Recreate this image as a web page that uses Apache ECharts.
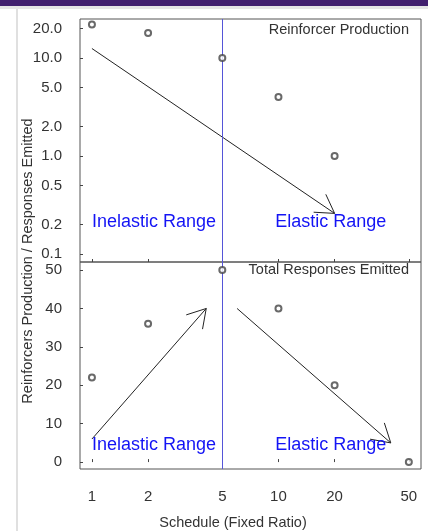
<!DOCTYPE html>
<html><head><meta charset="utf-8">
<script src="https://cdn.jsdelivr.net/npm/echarts@6/dist/echarts.min.js"></script>
<style>html,body{margin:0;padding:0;background:#fff}#c{width:428px;height:531px}</style>
</head><body><div id="c"></div>
<script>
// ---- data ----
const xTicks = [1, 2, 5, 10, 20, 50];
const yTopTicks = [0.1, 0.2, 0.5, 1, 2, 5, 10, 20];
const yBotTicks = [0, 10, 20, 30, 40, 50];
const reinforcerFR = [1, 2, 5, 10, 20];
const reinforcerVals = [22, 18, 10, 4, 1];
const responseFR = [1, 2, 5, 10, 20, 50];
const responseVals = [22, 36, 50, 40, 20, 0];
const topArrows = [[1, 12.5, 20, 0.26]];
const botArrows = [[1, 6, 4.1, 40], [6, 40, 40, 5]];
const rangeNames = ['Inelastic Range', 'Elastic Range'];
const topRangeAnchors = [[1, 0.21], [9.6, 0.21]];
const botRangeAnchors = [[1, 4.4], [9.6, 4.4]];
const divideFR = 5;

const FONT = 'Liberation Sans, Arial, sans-serif';
const chart = echarts.init(document.getElementById('c'));

function arrowRender(params, api) {
  const p1 = api.coord([api.value(0), api.value(1)]);
  const p2 = api.coord([api.value(2), api.value(3)]);
  const ang = Math.atan2(p2[1] - p1[1], p2[0] - p1[0]) + Math.PI;
  const L = 21, a = 31 * Math.PI / 180;
  const b1 = [p2[0] + L * Math.cos(ang - a), p2[1] + L * Math.sin(ang - a)];
  const b2 = [p2[0] + L * Math.cos(ang + a), p2[1] + L * Math.sin(ang + a)];
  const st = { stroke: '#222', lineWidth: 1, fill: null };
  return { type: 'group', children: [
    { type: 'line', shape: { x1: p1[0], y1: p1[1], x2: p2[0], y2: p2[1] }, style: st },
    { type: 'line', shape: { x1: p2[0], y1: p2[1], x2: b1[0], y2: b1[1] }, style: st },
    { type: 'line', shape: { x1: p2[0], y1: p2[1], x2: b2[0], y2: b2[1] }, style: st }
  ]};
}

const axisLabelStyle = { color: '#333', fontSize: 15, fontFamily: FONT };
const tickInside = { show: true, inside: true, length: 3, lineStyle: { color: '#444' } };

const vline = {
  silent: true, symbol: 'none', label: { show: false },
  lineStyle: { color: '#5555d8', width: 1, type: 'solid' },
  data: [{ xAxis: divideFR }]
};

function rangeLabelData(anchors) {
  return anchors.map((a, i) => ({ value: a, name: rangeNames[i] }));
}
const rangeLabel = {
  show: true, position: 'right', distance: 0, formatter: '{b}',
  color: '#1414f5', fontSize: 18, fontFamily: FONT, opacity: 1
};

chart.setOption({
  animation: false,
  backgroundColor: '#fff',
  graphic: [
    { type: 'rect', shape: { x: 0, y: 0, width: 428, height: 6 }, style: { fill: '#42206f' }, z: -10 },
    { type: 'rect', shape: { x: 0, y: 6, width: 428, height: 3 }, style: { fill: '#e6e6e6' }, z: -10 },
    { type: 'rect', shape: { x: 16, y: 9, width: 2, height: 522 }, style: { fill: '#e0e0e0' }, z: -10 },
    { type: 'text', x: 28, y: 261, rotation: Math.PI / 2, style: {
        text: 'Reinforcers Production / Responses Emitted', fill: '#333', font: '14.5px ' + FONT,
        textAlign: 'center', textVerticalAlign: 'middle' } },
    { type: 'text', x: 233, y: 523, style: {
        text: 'Schedule (Fixed Ratio)', fill: '#333', font: '14.5px ' + FONT,
        textAlign: 'center', textVerticalAlign: 'middle' } }
  ],
  title: [
    { text: 'Reinforcer Production', right: 19, top: 22, padding: 0,
      textStyle: { fontSize: 14.5, fontWeight: 'normal', color: '#333', fontFamily: FONT } },
    { text: 'Total Responses Emitted', right: 19, top: 262, padding: 0,
      textStyle: { fontSize: 14.5, fontWeight: 'normal', color: '#333', fontFamily: FONT } }
  ],
  grid: [
    { left: 80, top: 19, right: 7, height: 243, show: true, borderColor: '#555', borderWidth: 1, backgroundColor: 'transparent' },
    { left: 80, top: 262, right: 7, height: 207, show: true, borderColor: '#555', borderWidth: 1, backgroundColor: 'transparent' }
  ],
  xAxis: [
    { type: 'log', gridIndex: 0, min: 0.863, max: 58.1, logBase: 10,
      axisLine: { show: false }, splitLine: { show: false },
      axisTick: Object.assign({ customValues: xTicks }, tickInside),
      axisLabel: { show: false, customValues: xTicks } },
    { type: 'log', gridIndex: 1, min: 0.863, max: 58.1, logBase: 10,
      axisLine: { show: false }, splitLine: { show: false },
      axisTick: Object.assign({ customValues: xTicks }, tickInside),
      axisLabel: Object.assign({ customValues: xTicks, margin: 20, formatter: v => String(v) }, axisLabelStyle) }
  ],
  yAxis: [
    { type: 'log', gridIndex: 0, min: 0.083, max: 25, logBase: 10,
      axisLine: { show: false }, splitLine: { show: false },
      axisTick: Object.assign({ customValues: yTopTicks }, tickInside),
      axisLabel: Object.assign({ customValues: yTopTicks, margin: 18, formatter: v => Number(v).toFixed(1) }, axisLabelStyle) },
    { type: 'value', gridIndex: 1, min: -1.8, max: 52.1,
      axisLine: { show: false }, splitLine: { show: false },
      axisTick: Object.assign({ customValues: yBotTicks }, tickInside),
      axisLabel: Object.assign({ customValues: yBotTicks, margin: 18 }, axisLabelStyle) }
  ],
  series: [
    { type: 'scatter', xAxisIndex: 0, yAxisIndex: 0, symbol: 'emptyCircle', symbolSize: 6,
      itemStyle: { color: '#444', borderColor: '#444', borderWidth: 1 },
      data: reinforcerFR.map((x, i) => [x, reinforcerVals[i]]), markLine: vline, z: 5 },
    { type: 'scatter', xAxisIndex: 1, yAxisIndex: 1, symbol: 'emptyCircle', symbolSize: 6,
      itemStyle: { color: '#444', borderColor: '#444', borderWidth: 1 },
      data: responseFR.map((x, i) => [x, responseVals[i]]), markLine: vline, z: 5 },
    { type: 'custom', xAxisIndex: 0, yAxisIndex: 0, renderItem: arrowRender, data: topArrows, silent: true },
    { type: 'custom', xAxisIndex: 1, yAxisIndex: 1, renderItem: arrowRender, data: botArrows, silent: true },
    { type: 'scatter', xAxisIndex: 0, yAxisIndex: 0, symbolSize: 0, label: rangeLabel, data: rangeLabelData(topRangeAnchors), silent: true, z: 6 },
    { type: 'scatter', xAxisIndex: 1, yAxisIndex: 1, symbolSize: 0, label: rangeLabel, data: rangeLabelData(botRangeAnchors), silent: true, z: 6 }
  ]
});
</script></body></html>
